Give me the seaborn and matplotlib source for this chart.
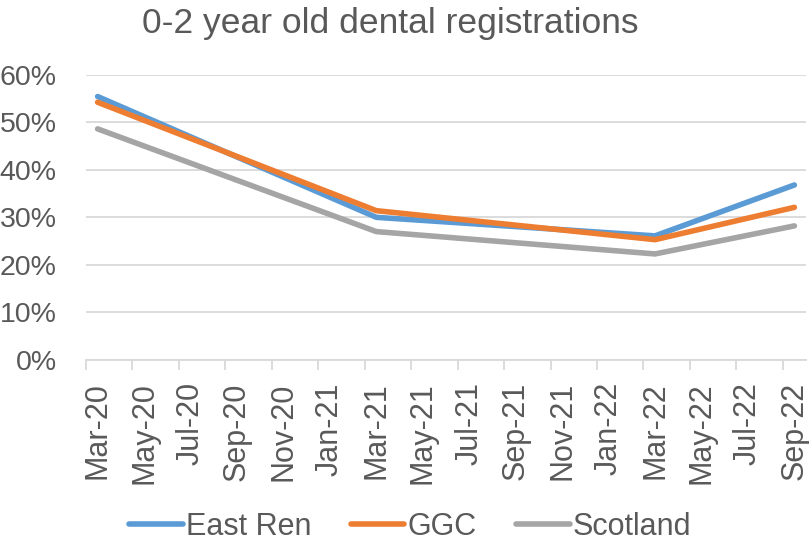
import pandas as pd
import seaborn as sns
import matplotlib.pyplot as plt
from matplotlib.ticker import PercentFormatter, FixedLocator

# data
months = ["2020-03", "2021-03", "2022-03", "2022-09"]
east_ren = [0.554, 0.300, 0.261, 0.368]
ggc = [0.542, 0.314, 0.253, 0.321]
scotland = [0.486, 0.270, 0.223, 0.282]

tick_labels = ["Mar-20", "May-20", "Jul-20", "Sep-20", "Nov-20", "Jan-21",
               "Mar-21", "May-21", "Jul-21", "Sep-21", "Nov-21", "Jan-22",
               "Mar-22", "May-22", "Jul-22", "Sep-22"]

series = {"East Ren": east_ren, "GGC": ggc, "Scotland": scotland}
colors = {"East Ren": "#5B9BD5", "GGC": "#ED7D31", "Scotland": "#A5A5A5"}

# month offset from Mar-20 for each data point
start = pd.Period("2020-03", freq="M")
month_idx = [(pd.Period(m, freq="M") - start).n for m in months]

rows = []
for name, vals in series.items():
    for mi, v in zip(month_idx, vals):
        rows.append({"month": mi, "value": v, "area": name})
df = pd.DataFrame(rows)

sns.set_theme(style="white")
plt.rcParams['font.family'] = ['Liberation Sans', 'DejaVu Sans']
text_color = "#595959"
grid_color = "#D9D9D9"

fig = plt.figure(figsize=(8.09, 5.49), dpi=100)
ax = fig.add_axes([0.1063, 0.3443, 0.89, 0.5197])

sns.lineplot(data=df, x="month", y="value", hue="area", palette=colors,
             linewidth=4, ax=ax, legend=False, solid_capstyle="round")

ax.set_xlim(-0.5, 30.5)
ax.set_ylim(0, 0.6)
ax.set_yticks([0, 0.1, 0.2, 0.3, 0.4, 0.5, 0.6])
ax.yaxis.set_major_formatter(PercentFormatter(1.0, decimals=0))
ax.yaxis.grid(True, color=grid_color, linewidth=1.3)
ax.set_axisbelow(True)

ax.set_xticks(range(0, 31, 2))
ax.set_xticklabels(tick_labels, rotation=90, va="top")
ax.xaxis.set_minor_locator(FixedLocator([x - 0.5 for x in range(0, 32, 2)]))
ax.tick_params(axis="x", which="major", length=0, pad=16, labelsize=22, colors=text_color)
ax.tick_params(axis="x", which="minor", bottom=True, length=7, width=1.3, color=grid_color)
ax.tick_params(axis="y", length=0, pad=21, labelsize=20.5, colors=text_color)

ax.set_xlabel("")
ax.set_ylabel("")
for side in ["top", "right", "left"]:
    ax.spines[side].set_visible(False)
ax.spines["bottom"].set_color(grid_color)
ax.spines["bottom"].set_linewidth(1.3)

fig.text(390 / 809, 1 - 23 / 549, "0-2 year old dental registrations", ha="center", va="center",
         fontsize=25.5, color=text_color)

handles = [plt.Line2D([], [], color=colors[n], linewidth=4, solid_capstyle="round") for n in series]
fig.legend(handles, list(series.keys()), loc="center", bbox_to_anchor=(0.507, 1 - 527 / 549),
           ncol=3, frameon=False, fontsize=22, labelcolor=text_color,
           handlelength=1.75, handletextpad=0.1, columnspacing=1.3)

plt.savefig("out.png", dpi=100)
